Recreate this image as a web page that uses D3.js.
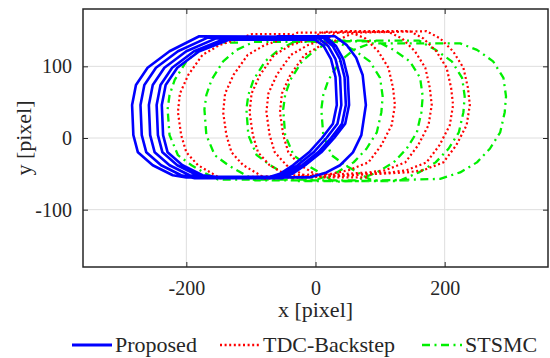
<!DOCTYPE html>
<html lang="en">
<head>
    <meta charset="UTF-8">
    <title></title>
    <style>
        body { margin: 0; background: #fff; }
        text { font-family: "Liberation Serif", "Times New Roman", serif; fill: #262626; }
    </style>
</head>
<body>

</body>
<script src="https://cdn.jsdelivr.net/npm/d3@7"></script>
<script>
    // tick labels
    var xTicks = [-200, 0, 200];
    var yTicks = [-100, 0, 100];
    var legendNames = ["Proposed", "TDC-Backstep", "STSMC"];

    // Proposed trajectory [x, y] in pixels
    var proposedXY = [
        [0, 137],
        [-134, 137], [-180, 121], [-214, 98], [-232, 74], [-238, 46], [-236, 4], [-229, -20], [-206, -38], [-175, -52], [-154, -54],
        [-70, -54], [-55, -50], [-35, -38], [-10, -20], [10, 0], [27, 20], [33, 46], [31, 85], [24, 110], [13, 128], [-2, 138],
        [-142, 138], [-188, 121], [-222, 98], [-240, 74], [-246, 46], [-244, 4], [-237, -20], [-214, -38], [-183, -52], [-162, -55],
        [-63, -55], [-48, -50], [-28, -38], [-3, -20], [17, 0], [34, 20], [40, 46], [38, 85], [31, 110], [20, 128], [5, 139],
        [-154, 139], [-200, 121], [-234, 98], [-252, 74], [-258, 46], [-256, 4], [-249, -20], [-226, -38], [-195, -52], [-174, -55],
        [-56, -55], [-41, -50], [-21, -38], [4, -20], [24, 0], [41, 20], [47, 46], [45, 85], [38, 110], [27, 128], [12, 140],
        [-167, 140], [-213, 121], [-247, 98], [-265, 74], [-271, 46], [-269, 4], [-262, -20], [-239, -38], [-208, -52], [-187, -56],
        [-51, -56], [-36, -50], [-16, -38], [9, -20], [29, 0], [46, 20], [52, 46], [50, 85], [43, 110], [32, 128], [17, 141],
        [-180, 142], [-226, 121], [-260, 98], [-278, 74], [-284, 46], [-282, 4], [-275, -20], [-252, -38], [-221, -52], [-200, -55],
        [-9, -55], [17, -48], [38, -38], [58, -20], [71, 4], [78, 46], [73, 88], [63, 112], [48, 130], [30, 142],
        [-60, 142]
    ];

    // TDC-Backstep trajectory
    var tdcXY = [
        [-40, 145],
        [-98, 145], [-123, 137], [-148, 130], [-175, 116], [-197, 88], [-210, 62], [-213, 36], [-208, 4], [-200, -20], [-182, -38], [-159, -50], [-148, -56],
        [25, -50], [51, -45], [82, -34], [102, -10], [118, 18], [123, 46], [120, 70], [113, 98], [97, 121], [77, 139], [56, 147],
        [-28, 147], [-53, 137], [-78, 130], [-105, 116], [-127, 88], [-140, 62], [-143, 36], [-138, 4], [-130, -20], [-112, -38], [-89, -50], [-78, -57],
        [82, -48], [108, -45], [139, -34], [159, -10], [175, 18], [180, 46], [177, 70], [170, 98], [154, 121], [134, 139], [113, 148],
        [13, 148], [-12, 137], [-37, 130], [-64, 116], [-86, 88], [-99, 62], [-102, 36], [-97, 4], [-89, -20], [-71, -38], [-48, -50], [-37, -56],
        [115, -48], [141, -45], [172, -34], [192, -10], [208, 18], [213, 46], [210, 70], [203, 98], [187, 121], [167, 139], [146, 149],
        [39, 149], [14, 137], [-11, 130], [-38, 116], [-60, 88], [-73, 62], [-76, 36], [-71, 4], [-63, -20], [-45, -38], [-22, -50], [-11, -55],
        [141, -48], [167, -45], [198, -34], [218, -10], [234, 18], [239, 46], [236, 70], [229, 98], [213, 121], [193, 139], [172, 149],
        [60, 147], [35, 137], [10, 130], [-17, 116], [-39, 88], [-52, 62], [-55, 36], [-50, 4], [-42, -20], [-24, -38], [-1, -50], [10, -55],
        [80, -55]
    ];

    // STSMC trajectory
    var stsmcXY = [
        [-120, 133],
        [-153, 133], [-179, 123], [-200, 107], [-218, 81], [-226, 60], [-229, 40], [-226, 4], [-213, -24], [-192, -38], [-169, -50], [-151, -58],
        [2, -58], [33, -48], [59, -34], [79, -15], [95, 8], [102, 36], [104, 58], [100, 84], [84, 107], [59, 123], [33, 134],
        [-96, 134], [-122, 123], [-143, 107], [-161, 81], [-169, 60], [-172, 40], [-169, 4], [-156, -24], [-135, -38], [-112, -50], [-94, -59],
        [64, -59], [95, -48], [121, -34], [141, -15], [157, 8], [164, 36], [166, 58], [162, 84], [146, 107], [121, 123], [95, 135],
        [-31, 135], [-57, 123], [-78, 107], [-96, 81], [-104, 60], [-107, 40], [-104, 4], [-91, -24], [-70, -38], [-47, -50], [-29, -60],
        [129, -60], [160, -48], [186, -34], [206, -15], [222, 8], [229, 36], [231, 58], [227, 84], [211, 107], [186, 123], [160, 136],
        [26, 136], [0, 123], [-21, 107], [-39, 81], [-47, 60], [-50, 40], [-47, 4], [-34, -24], [-13, -38], [10, -50], [28, -61],
        [193, -57], [224, -48], [250, -34], [270, -15], [286, 8], [293, 36], [295, 58], [291, 84], [275, 107], [250, 123], [224, 132],
        [85, 132], [59, 123], [38, 107], [20, 81], [12, 60], [9, 40], [12, 4], [25, -24], [46, -38], [69, -50], [87, -59],
        [150, -59]
    ];

    var series = [
        {name: legendNames[0], pts: proposedXY, color: "#0000ff", width: 2.6, dash: null},
        {name: legendNames[1], pts: tdcXY, color: "#ff0000", width: 2.2, dash: "2,2.6"},
        {name: legendNames[2], pts: stsmcXY, color: "#00f000", width: 2.3, dash: "8,4.5,2,4.5"}
    ];

    // plot box edges (window.top is reserved, so use other names)
    var pLeft = 83, pRight = 548, pTop = 9, pBottom = 267;

    var svg = d3.select("body").append("svg")
            .attr("width", 550)
            .attr("height", 358);

    var x = d3.scaleLinear().domain([-360, 360]).range([pLeft, pRight]);
    var y = d3.scaleLinear().domain([-180, 180]).range([pBottom, pTop]);

    // grid
    var grid = svg.append("g");
    grid.selectAll(".gx").data(xTicks).enter().append("line")
            .attr("x1", function(d) { return x(d); }).attr("x2", function(d) { return x(d); })
            .attr("y1", pTop).attr("y2", pBottom)
            .style("stroke", "#dedede").style("stroke-width", 1);
    grid.selectAll(".gy").data(yTicks).enter().append("line")
            .attr("y1", function(d) { return y(d); }).attr("y2", function(d) { return y(d); })
            .attr("x1", pLeft).attr("x2", pRight)
            .style("stroke", "#dedede").style("stroke-width", 1);

    // trajectories
    svg.append("clipPath").attr("id", "plotclip")
            .append("rect").attr("x", pLeft).attr("y", pTop)
            .attr("width", pRight - pLeft).attr("height", pBottom - pTop);

    var line = d3.line()
            .x(function(d) { return x(d[0]); })
            .y(function(d) { return y(d[1]); })
            .curve(d3.curveLinear);

    var lines = svg.append("g").attr("clip-path", "url(#plotclip)");
    // draw STSMC first, then TDC, then Proposed on top
    [series[2], series[1], series[0]].forEach(function(s) {
        lines.append("path")
                .attr("d", line(s.pts))
                .style("fill", "none")
                .style("stroke", s.color)
                .style("stroke-width", s.width)
                .style("stroke-dasharray", s.dash)
                .style("stroke-linejoin", "round");
    });

    // axes with inward ticks on all four sides
    var tickLen = -5;
    var plain = function(d) { return String(d); };
    svg.append("g").attr("transform", "translate(0," + pBottom + ")")
            .call(d3.axisBottom(x).tickValues(xTicks).tickSize(tickLen).tickPadding(14).tickFormat(plain));
    svg.append("g").attr("transform", "translate(0," + pTop + ")")
            .call(d3.axisTop(x).tickValues(xTicks).tickSize(tickLen).tickFormat(""));
    svg.append("g").attr("transform", "translate(" + pLeft + ",0)")
            .call(d3.axisLeft(y).tickValues(yTicks).tickSize(tickLen).tickPadding(11).tickFormat(plain));
    svg.append("g").attr("transform", "translate(" + pRight + ",0)")
            .call(d3.axisRight(y).tickValues(yTicks).tickSize(tickLen).tickFormat(""));

    svg.selectAll(".domain").remove();
    svg.selectAll(".tick line").style("stroke", "#262626").style("stroke-width", 1);
    svg.selectAll(".tick text")
            .style("font-family", "'Liberation Serif', 'Times New Roman', serif")
            .style("font-size", "20px")
            .style("fill", "#262626");

    // box
    svg.append("rect")
            .attr("x", pLeft).attr("y", pTop)
            .attr("width", pRight - pLeft).attr("height", pBottom - pTop)
            .style("fill", "none").style("stroke", "#262626").style("stroke-width", 1.5);

    // axis labels
    svg.append("text")
            .attr("x", x(0)).attr("y", 317)
            .style("text-anchor", "middle").style("font-size", "22px")
            .text("x [pixel]");
    svg.append("text")
            .attr("transform", "translate(31," + y(0) + ") rotate(-90)")
            .style("text-anchor", "middle").style("font-size", "22px")
            .text("y [pixel]");

    // legend
    var legendX = [72, 220, 422];
    var legend = svg.append("g");
    series.forEach(function(s, i) {
        legend.append("line")
                .attr("x1", legendX[i]).attr("x2", legendX[i] + 40)
                .attr("y1", 345).attr("y2", 345)
                .style("stroke", s.color)
                .style("stroke-width", s.width + 0.3)
                .style("stroke-dasharray", s.dash);
        legend.append("text")
                .attr("x", legendX[i] + 43).attr("y", 352)
                .style("font-size", "22px")
                .text(s.name);
    });
</script>
</html>
